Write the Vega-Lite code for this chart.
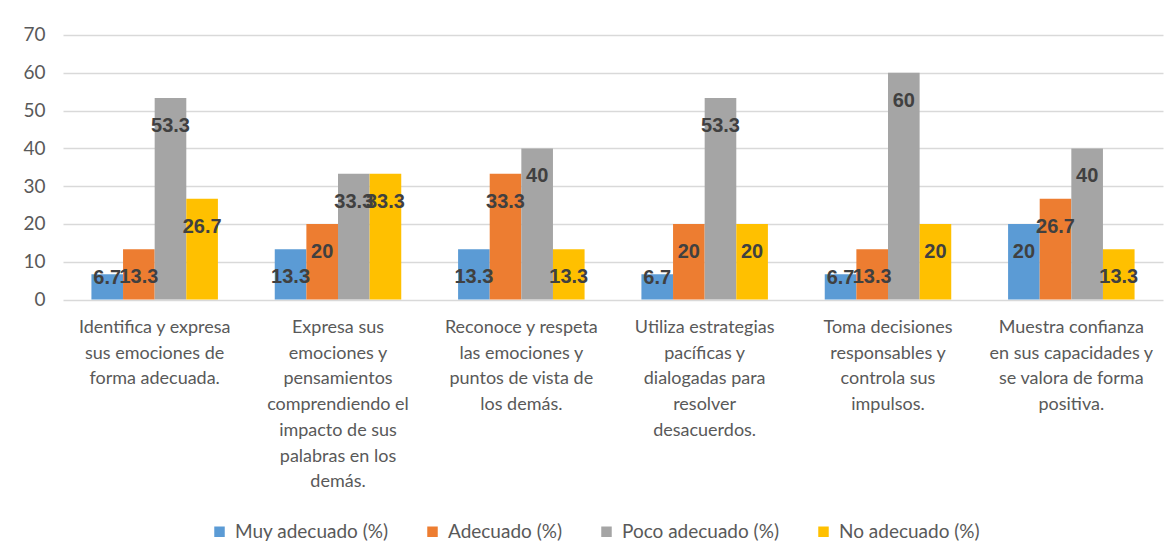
{
  "$schema": "https://vega.github.io/schema/vega-lite/v6.json",
  "autosize": {"type": "none"},
  "width": 1100,
  "height": 264.6,
  "padding": {"left": 63, "top": 35, "right": 13, "bottom": 259},
  "background": "white",
  "config": {
    "view": {"stroke": null},
    "font": "Lato"
  },
  "data": {
    "values": [
      {"cat": "Identifica y expresa|sus emociones de|forma adecuada.", "serie": "Muy adecuado (%)", "value": 6.7},
      {"cat": "Identifica y expresa|sus emociones de|forma adecuada.", "serie": "Adecuado (%)", "value": 13.3},
      {"cat": "Identifica y expresa|sus emociones de|forma adecuada.", "serie": "Poco adecuado (%)", "value": 53.3},
      {"cat": "Identifica y expresa|sus emociones de|forma adecuada.", "serie": "No adecuado (%)", "value": 26.7},
      {"cat": "Expresa sus|emociones y|pensamientos|comprendiendo el|impacto de sus|palabras en los|demás.", "serie": "Muy adecuado (%)", "value": 13.3},
      {"cat": "Expresa sus|emociones y|pensamientos|comprendiendo el|impacto de sus|palabras en los|demás.", "serie": "Adecuado (%)", "value": 20},
      {"cat": "Expresa sus|emociones y|pensamientos|comprendiendo el|impacto de sus|palabras en los|demás.", "serie": "Poco adecuado (%)", "value": 33.3},
      {"cat": "Expresa sus|emociones y|pensamientos|comprendiendo el|impacto de sus|palabras en los|demás.", "serie": "No adecuado (%)", "value": 33.3},
      {"cat": "Reconoce y respeta|las emociones y|puntos de vista de|los demás.", "serie": "Muy adecuado (%)", "value": 13.3},
      {"cat": "Reconoce y respeta|las emociones y|puntos de vista de|los demás.", "serie": "Adecuado (%)", "value": 33.3},
      {"cat": "Reconoce y respeta|las emociones y|puntos de vista de|los demás.", "serie": "Poco adecuado (%)", "value": 40},
      {"cat": "Reconoce y respeta|las emociones y|puntos de vista de|los demás.", "serie": "No adecuado (%)", "value": 13.3},
      {"cat": "Utiliza estrategias|pacíficas y|dialogadas para|resolver|desacuerdos.", "serie": "Muy adecuado (%)", "value": 6.7},
      {"cat": "Utiliza estrategias|pacíficas y|dialogadas para|resolver|desacuerdos.", "serie": "Adecuado (%)", "value": 20},
      {"cat": "Utiliza estrategias|pacíficas y|dialogadas para|resolver|desacuerdos.", "serie": "Poco adecuado (%)", "value": 53.3},
      {"cat": "Utiliza estrategias|pacíficas y|dialogadas para|resolver|desacuerdos.", "serie": "No adecuado (%)", "value": 20},
      {"cat": "Toma decisiones|responsables y|controla sus|impulsos.", "serie": "Muy adecuado (%)", "value": 6.7},
      {"cat": "Toma decisiones|responsables y|controla sus|impulsos.", "serie": "Adecuado (%)", "value": 13.3},
      {"cat": "Toma decisiones|responsables y|controla sus|impulsos.", "serie": "Poco adecuado (%)", "value": 60},
      {"cat": "Toma decisiones|responsables y|controla sus|impulsos.", "serie": "No adecuado (%)", "value": 20},
      {"cat": "Muestra confianza|en sus capacidades y|se valora de forma|positiva.", "serie": "Muy adecuado (%)", "value": 20},
      {"cat": "Muestra confianza|en sus capacidades y|se valora de forma|positiva.", "serie": "Adecuado (%)", "value": 26.7},
      {"cat": "Muestra confianza|en sus capacidades y|se valora de forma|positiva.", "serie": "Poco adecuado (%)", "value": 40},
      {"cat": "Muestra confianza|en sus capacidades y|se valora de forma|positiva.", "serie": "No adecuado (%)", "value": 13.3}
    ]
  },
  "encoding": {
    "x": {
      "field": "cat", "type": "nominal", "sort": null,
      "scale": {"paddingInner": 0.31, "paddingOuter": 0.155},
      "axis": {
        "title": null, "labelAngle": 0, "domain": false, "ticks": false,
        "labelExpr": "split(datum.value, '|')",
        "labelFont": "Lato", "labelFontSize": 18, "labelLineHeight": 25.7,
        "labelColor": "#595959", "labelPadding": 19, "labelBaseline": "top",
        "labelLimit": 0
      }
    },
    "xOffset": {
      "field": "serie", "type": "nominal",
      "sort": ["Muy adecuado (%)", "Adecuado (%)", "Poco adecuado (%)", "No adecuado (%)"]
    },
    "y": {
      "field": "value", "type": "quantitative",
      "scale": {"domain": [0, 70], "nice": false},
      "axis": {
        "title": null, "values": [0, 10, 20, 30, 40, 50, 60, 70],
        "domain": false, "ticks": false,
        "gridColor": "#d9d9d9", "gridWidth": 1.5,
        "labelFont": "Lato", "labelFontSize": 19, "labelColor": "#595959", "labelPadding": 18
      }
    }
  },
  "layer": [
    {
      "mark": {"type": "bar"},
      "encoding": {
        "color": {
          "field": "serie", "type": "nominal",
          "scale": {
            "domain": ["Muy adecuado (%)", "Adecuado (%)", "Poco adecuado (%)", "No adecuado (%)"],
            "range": ["#5B9BD5", "#ED7D31", "#A5A5A5", "#FFC000"]
          },
          "legend": {
            "title": null, "orient": "none", "direction": "horizontal",
            "legendX": 147, "legendY": 487,
            "symbolType": "square", "symbolSize": 110, "symbolStrokeWidth": 0,
            "labelFont": "Lato", "labelFontSize": 19, "labelColor": "#595959",
            "labelOffset": 6, "columnPadding": 34, "labelLimit": 400
          }
        }
      }
    },
    {
      "transform": [{"filter": "datum.value >= 10"}],
      "mark": {"type": "text", "baseline": "middle", "dy": 28, "font": "Liberation Sans", "fontWeight": "bold", "fontSize": 20, "color": "#404040"},
      "encoding": {"text": {"field": "value", "type": "quantitative"}}
    },
    {
      "transform": [{"filter": "datum.value < 10"}],
      "mark": {"type": "text", "baseline": "middle", "dy": 4, "font": "Liberation Sans", "fontWeight": "bold", "fontSize": 20, "color": "#404040"},
      "encoding": {"text": {"field": "value", "type": "quantitative"}}
    }
  ]
}
